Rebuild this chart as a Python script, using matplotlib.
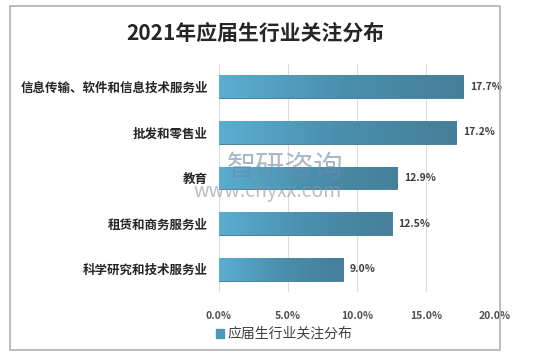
import numpy as np
import matplotlib
matplotlib.use('Agg')
import matplotlib.pyplot as plt
from matplotlib.patches import Rectangle
from matplotlib.colors import LinearSegmentedColormap

plt.rcParams['font.family'] = ['Noto Sans CJK SC', 'DejaVu Sans']

categories = ['信息传输、软件和信息技术服务业', '批发和零售业', '教育', '租赁和商务服务业', '科学研究和技术服务业']
values = [17.7, 17.2, 12.9, 12.5, 9.0]
xticks = [0, 5, 10, 15, 20]
title = '2021年应届生行业关注分布'
series_name = '应届生行业关注分布'

fig = plt.figure(figsize=(5.4, 3.61), dpi=100)
fig.patches.append(Rectangle((10 / 540, 11 / 361), 490 / 540, 344 / 361, transform=fig.transFigure,
                             fill=False, edgecolor='#b0b0b0', linewidth=1.2))

ax = fig.add_axes([219 / 540, 1 - 292 / 361, 276 / 540, 228 / 361])

y = np.arange(len(categories))
bars = ax.barh(y, values, height=0.5, color='#4f98b8', edgecolor='#3f7890', linewidth=0.6, zorder=3,
               label=series_name)

# gradient fill on each bar
cmap = LinearSegmentedColormap.from_list('bar', ['#5aaed2', '#4a8fae', '#467f99'])
grad = np.linspace(0, 1, 256).reshape(1, -1)
for b in bars:
    x0, y0, w, h = b.get_x(), b.get_y(), b.get_width(), b.get_height()
    im = ax.imshow(grad, extent=(x0, x0 + w, y0 + h, y0), cmap=cmap, aspect='auto', zorder=3.5)
    im.set_clip_path(b)

for yi, v in zip(y, values):
    ax.text(v + 0.5, yi, f'{v:.1f}%', va='center', ha='left', fontsize=7.5, color='#404040', fontweight='bold')

ax.set_xlim(0, 20)
ax.set_ylim(4.5, -0.5)
ax.set_xticks(xticks)
ax.set_xticklabels([f'{t:.1f}%' for t in xticks], fontsize=7.5, color='#505050', fontweight='bold')
ax.set_yticks(y)
ax.set_yticklabels(categories, fontsize=9, color='#262626', fontweight='bold')
ax.tick_params(axis='both', length=0, pad=8)
ax.tick_params(axis='x', pad=14)
ax.grid(axis='x', color='#dcdcdc', linewidth=0.8, zorder=0)
for s in ax.spines.values():
    s.set_visible(False)
ax.set_aspect('auto')

fig.text(255 / 540, 1 - 33 / 361, title, ha='center', va='center', fontsize=15, fontweight='bold', color='#262626')

fig.legend(handles=[Rectangle((0, 0), 1, 1, color='#4f98b8')], labels=[series_name],
           loc='center left', bbox_to_anchor=(203 / 540, 1 - 334 / 361), frameon=False,
           handlelength=0.6, handleheight=0.6, handletextpad=0.3, prop={'size': 10}, labelcolor='#404040')

# watermark
fig.text(285 / 540, 1 - 168 / 361, '智研咨询', ha='center', va='center', fontsize=21,
         color='#6f8aa6', alpha=0.6, zorder=10)
fig.text(268 / 540, 1 - 192 / 361, 'www.chyxx.com', ha='center', va='center', fontsize=14,
         color='#8a939c', alpha=0.6, zorder=10)

fig.savefig('out.png', dpi=100)
